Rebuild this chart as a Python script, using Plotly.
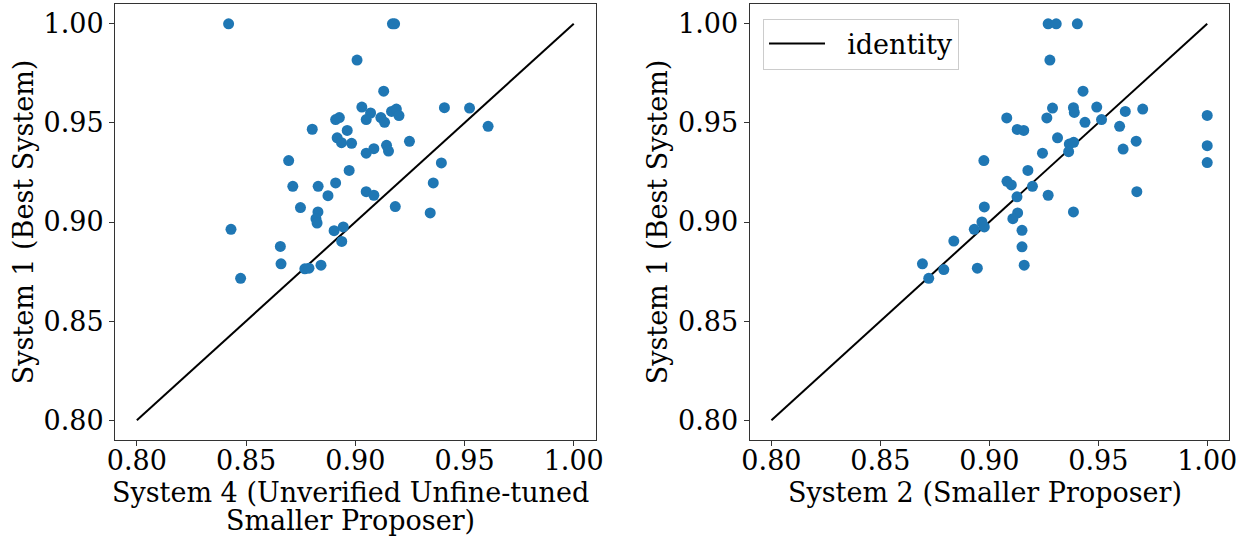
import plotly.graph_objects as go

# Left panel: System 4 (x) vs System 1 (y)
sys4_x = [0.842, 0.917, 0.918, 0.9008, 0.913, 0.903, 0.907, 0.9166, 0.9188, 0.920,
          0.9408, 0.9523, 0.891, 0.8927, 0.905, 0.9117, 0.9134, 0.9608, 0.8803, 0.8963,
          0.8917, 0.8937, 0.8983, 0.9248, 0.9143, 0.9152, 0.9085, 0.905, 0.8695, 0.9394,
          0.8972, 0.8714, 0.883, 0.891, 0.9357, 0.905, 0.9085, 0.8875,
          0.8749, 0.9183, 0.8829, 0.882, 0.8825, 0.9343, 0.8431, 0.8903, 0.8945, 0.8938,
          0.8657, 0.866, 0.8769, 0.8788, 0.8843, 0.8475]
sys1_left = [1.000, 1.000, 1.000, 0.9817, 0.966, 0.958, 0.955, 0.9558, 0.957, 0.9537,
             0.9577, 0.9575, 0.9517, 0.9527, 0.9517, 0.9527, 0.9503, 0.9483, 0.9468, 0.9462,
             0.9425, 0.940, 0.9397, 0.9407, 0.9387, 0.9358, 0.937, 0.9347, 0.931, 0.9298,
             0.926, 0.918, 0.918, 0.9197, 0.9197, 0.9153, 0.9135, 0.9133,
             0.9073, 0.9078, 0.9051, 0.9017, 0.8995, 0.9046, 0.8963, 0.8956, 0.8975, 0.8902,
             0.8877, 0.8789, 0.8764, 0.8767, 0.8782, 0.8716]

# Right panel: System 2 (x) vs System 1 (y)
sys2_x = [0.927, 0.9307, 0.9404, 0.9278, 0.943, 0.929, 0.9386, 0.939, 0.9493, 0.9624,
          0.9704, 0.908, 0.9264, 0.9439, 0.9515, 1.000, 0.9128, 0.9158, 0.9598, 0.9313,
          0.9367, 0.9387, 0.9674, 0.9364, 0.9614, 1.000, 0.9244, 0.8975, 1.000, 0.9177,
          0.9081, 0.9101, 0.9198, 0.927, 0.9677, 0.9127,
          0.8977, 0.9386, 0.913, 0.9108, 0.8966, 0.8977, 0.8931, 0.915, 0.8837, 0.915,
          0.8693, 0.8791, 0.8945, 0.916, 0.8722]
sys1_right = [1.000, 1.000, 1.000, 0.9817, 0.966, 0.9575, 0.9577, 0.9553, 0.958, 0.9558,
              0.957, 0.9525, 0.9525, 0.9503, 0.9517, 0.9538, 0.9467, 0.9462, 0.9483, 0.9425,
              0.9393, 0.9402, 0.9408, 0.9355, 0.9368, 0.9385, 0.9347, 0.931, 0.930, 0.926,
              0.9205, 0.9187, 0.918, 0.9135, 0.9153, 0.9127,
              0.9076, 0.9051, 0.9046, 0.9017, 0.900, 0.8975, 0.8963, 0.8958, 0.8904, 0.8875,
              0.8789, 0.876, 0.8767, 0.8782, 0.8716]

identity = [0.80, 1.00]
ticks = [0.80, 0.85, 0.90, 0.95, 1.00]
tick_text = ["0.80", "0.85", "0.90", "0.95", "1.00"]

left_xtitle = ["System 4 (Unverified Unfine-tuned", "Smaller Proposer)"]
right_xtitle = "System 2 (Smaller Proposer)"
ytitle = "System 1 (Best System)"
legend_name = "identity"

FONT = "DejaVu Serif"
FS = 27
TFS = 27
BLUE = "#1f77b4"

fig = go.Figure()
fig.add_trace(go.Scatter(x=identity, y=identity, mode="lines",
                         line=dict(color="black", width=2), showlegend=False,
                         xaxis="x", yaxis="y"))
fig.add_trace(go.Scatter(x=sys4_x, y=sys1_left, mode="markers",
                         marker=dict(color=BLUE, size=11), showlegend=False,
                         xaxis="x", yaxis="y"))
fig.add_trace(go.Scatter(x=identity, y=identity, mode="lines",
                         name="\u00a0\u00a0" + legend_name,
                         line=dict(color="black", width=2), showlegend=True,
                         xaxis="x2", yaxis="y2"))
fig.add_trace(go.Scatter(x=sys2_x, y=sys1_right, mode="markers",
                         marker=dict(color=BLUE, size=11), showlegend=False,
                         xaxis="x2", yaxis="y2"))

axis_common = dict(range=[0.79, 1.01], tickvals=ticks, ticktext=tick_text,
                   showgrid=False, zeroline=False, showline=True, mirror=True,
                   linecolor="#333", linewidth=1, ticks="outside", ticklen=5,
                   tickcolor="#333", tickfont=dict(family=FONT, size=TFS, color="black"))

fig.update_layout(
    width=1243, height=537,
    margin=dict(l=115, r=14, t=4, b=97),
    paper_bgcolor="white", plot_bgcolor="white",
    font=dict(family=FONT, size=FS, color="black"),
    xaxis=dict(domain=[0, 0.4314], anchor="y", ticklabelstandoff=-8, **axis_common),
    yaxis=dict(domain=[0, 1], anchor="x",
               title=dict(text=ytitle, font=dict(family=FONT, size=FS), standoff=2),
               **axis_common),
    xaxis2=dict(domain=[0.5697, 1], anchor="y2", ticklabelstandoff=-8, **axis_common),
    yaxis2=dict(domain=[0, 1], anchor="x2",
                title=dict(text=ytitle, font=dict(family=FONT, size=FS), standoff=2),
                **axis_common),
    legend=dict(x=0.5817, y=0.9667, xanchor="left", yanchor="top",
                bgcolor="white", bordercolor="#cccccc", borderwidth=1,
                itemwidth=56,
                font=dict(family=FONT, size=FS)),
)

ann_font = dict(family=FONT, size=FS, color="black")
fig.add_annotation(text=left_xtitle[0], xref="x domain", yref="paper",
                   x=0.49, y=-0.1209, xanchor="center", yanchor="middle",
                   showarrow=False, font=ann_font)
fig.add_annotation(text=left_xtitle[1], xref="x domain", yref="paper",
                   x=0.49, y=-0.1835, xanchor="center", yanchor="middle",
                   showarrow=False, font=ann_font)
fig.add_annotation(text=right_xtitle, xref="x2 domain", yref="paper",
                   x=0.49, y=-0.1209, xanchor="center", yanchor="middle",
                   showarrow=False, font=ann_font)

fig.write_html("out.html", config={"displayModeBar": False},
               post_script="document.body.style.margin='0';")
